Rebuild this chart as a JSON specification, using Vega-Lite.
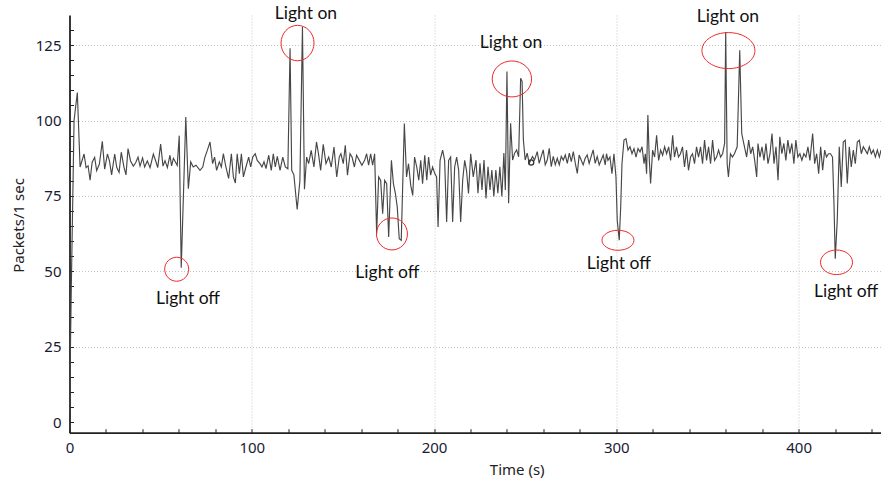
{
  "$schema": "https://vega.github.io/schema/vega-lite/v6.json",
  "width": 811.5,
  "height": 417.7,
  "autosize": {"type": "none"},
  "padding": {"left": 69.5, "top": 15, "right": 0, "bottom": 48.3},
  "background": "white",
  "config": {
    "view": {"stroke": null},
    "axis": {
      "domainColor": "#222222",
      "domainWidth": 1.8,
      "tickColor": "#222222",
      "tickWidth": 1,
      "tickSize": -4,
      "labelFont": "Noto Sans",
      "labelFontSize": 15,
      "labelColor": "#1a1a33",
      "titleFont": "Noto Sans",
      "titleFontSize": 15,
      "titleFontWeight": "normal",
      "titleColor": "#222222",
      "gridColor": "#c4c4c4",
      "gridDash": [1, 2],
      "gridWidth": 1
    }
  },
  "datasets": {
    "series": [
      {"t":0,"v":3},{"t":1,"v":45},{"t":2.5,"v":100},{"t":4.3,"v":109.3},{"t":5.8,"v":84.6},{"t":8.0,"v":88.9},{"t":9.1,"v":84.4},{"t":10.2,"v":85.0},{"t":11.3,"v":80.2},{"t":12.4,"v":86.1},{"t":13.8,"v":87.8},{"t":14.9,"v":83.4},{"t":16.4,"v":85.6},{"t":18.0,"v":93.1},{"t":19.3,"v":83.9},{"t":20.8,"v":88.9},{"t":21.9,"v":86.7},{"t":23.1,"v":82.0},{"t":24.8,"v":88.9},{"t":25.9,"v":84.5},{"t":27.2,"v":82.8},{"t":28.4,"v":89.5},{"t":29.9,"v":84.5},{"t":31.0,"v":82.0},{"t":32.1,"v":90.7},{"t":33.5,"v":86.6},{"t":35.0,"v":84.9},{"t":36.3,"v":86.0},{"t":37.6,"v":87.9},{"t":38.7,"v":84.9},{"t":40.1,"v":87.6},{"t":41.2,"v":84.6},{"t":42.7,"v":86.6},{"t":44.2,"v":84.4},{"t":46.0,"v":88.9},{"t":47.3,"v":86.6},{"t":48.4,"v":84.4},{"t":50.0,"v":92.2},{"t":51.3,"v":84.9},{"t":52.4,"v":86.7},{"t":53.7,"v":84.4},{"t":55.1,"v":88.5},{"t":56.0,"v":85.0},{"t":57.0,"v":87.5},{"t":57.9,"v":86.5},{"t":59.1,"v":85.1},{"t":60.2,"v":95.0},{"t":61.3,"v":51.2},{"t":63.8,"v":101.2},{"t":65.2,"v":77.4},{"t":66.5,"v":86.3},{"t":67.9,"v":84.6},{"t":69.4,"v":85.2},
      {"t":71.6,"v":83.5},{"t":73.1,"v":84.6},{"t":74.3,"v":87.9},{"t":75.6,"v":90.1},{"t":77.1,"v":92.9},{"t":78.5,"v":85.7},{"t":79.6,"v":87.9},{"t":80.7,"v":83.5},{"t":82.2,"v":86.3},{"t":83.3,"v":84.6},{"t":84.4,"v":89.0},{"t":85.8,"v":84.6},{"t":87.3,"v":80.8},{"t":88.8,"v":89.0},{"t":89.9,"v":81.3},{"t":91.0,"v":79.3},{"t":92.0,"v":89.0},{"t":93.2,"v":82.4},{"t":94.3,"v":89.0},{"t":95.4,"v":81.3},{"t":96.8,"v":84.6},{"t":98.3,"v":87.9},{"t":99.4,"v":84.6},{"t":100.5,"v":87.9},{"t":101.9,"v":89.0},{"t":103.0,"v":86.8},{"t":104.5,"v":85.7},{"t":105.6,"v":84.6},{"t":106.7,"v":86.3},{"t":107.8,"v":84.1},{"t":109.3,"v":88.5},{"t":110.7,"v":83.5},{"t":111.8,"v":89.0},{"t":112.9,"v":84.6},{"t":114.0,"v":88.1},{"t":115.5,"v":83.5},{"t":117.0,"v":87.9},{"t":118.4,"v":84.6},{"t":119.8,"v":84.0},{"t":121.0,"v":124.0},{"t":121.9,"v":83.5},{"t":123.1,"v":82.0},{"t":124.9,"v":70.5},{"t":126.4,"v":80.0},{"t":127.8,"v":131.0},{"t":128.9,"v":77.2},{"t":130.1,"v":87.9},{"t":131.2,"v":85.7},{"t":132.6,"v":90.1},{"t":134.1,"v":84.6},{"t":135.5,"v":92.9},{"t":136.6,"v":89.0},{"t":137.8,"v":83.5},{"t":139.2,"v":92.1},{"t":140.7,"v":85.7},{"t":142.2,"v":87.9},{"t":143.6,"v":84.6},{"t":145.1,"v":91.2},{"t":146.6,"v":81.3},{"t":148.0,"v":87.9},
      {"t":148.9,"v":89.0},{"t":150.2,"v":85.7},{"t":151.3,"v":91.8},{"t":152.5,"v":81.9},{"t":153.9,"v":89.0},{"t":155.0,"v":87.9},{"t":156.3,"v":84.6},{"t":157.5,"v":88.5},{"t":159.0,"v":86.8},{"t":160.4,"v":85.2},{"t":161.9,"v":86.8},{"t":163.0,"v":89.0},{"t":164.1,"v":85.2},{"t":165.2,"v":89.0},{"t":166.3,"v":85.2},{"t":167.4,"v":89.0},{"t":168.5,"v":62.5},{"t":169.6,"v":81.3},{"t":170.7,"v":80.2},{"t":171.8,"v":69.1},{"t":172.9,"v":80.2},{"t":174.0,"v":79.1},{"t":175.1,"v":61.4},{"t":176.6,"v":86.8},{"t":177.7,"v":79.1},{"t":178.8,"v":75.8},{"t":179.8,"v":71.4},{"t":180.9,"v":60.8},{"t":182.0,"v":60.3},{"t":183.7,"v":99.0},{"t":184.9,"v":81.3},{"t":186.0,"v":85.7},{"t":187.2,"v":78.5},{"t":188.3,"v":75.2},{"t":189.3,"v":87.9},{"t":190.5,"v":84.6},{"t":191.6,"v":80.2},{"t":192.7,"v":86.8},{"t":193.7,"v":79.1},{"t":194.9,"v":88.5},{"t":196.0,"v":80.2},{"t":197.0,"v":87.9},{"t":198.1,"v":81.9},{"t":199.2,"v":84.6},{"t":200.4,"v":82.4},{"t":201.4,"v":81.3},{"t":202.2,"v":64.7},{"t":203.3,"v":86.8},{"t":204.7,"v":90.2},{"t":205.8,"v":86.8},{"t":206.9,"v":66.4},{"t":208.0,"v":86.8},{"t":209.1,"v":87.9},{"t":210.2,"v":66.4},{"t":211.3,"v":84.6},{"t":212.4,"v":87.9},{"t":213.5,"v":83.5},{"t":214.6,"v":66.4},{"t":215.7,"v":80.2},{"t":216.8,"v":86.8},{"t":217.8,"v":83.5},{"t":218.9,"v":75.8},{"t":220.1,"v":89.0},{"t":221.5,"v":81.3},
      {"t":223.0,"v":86.9},{"t":224.1,"v":75.9},{"t":225.2,"v":85.8},{"t":226.3,"v":77.0},{"t":227.4,"v":86.9},{"t":228.5,"v":74.2},{"t":229.6,"v":84.7},{"t":230.7,"v":77.0},{"t":231.7,"v":83.6},{"t":232.8,"v":74.8},{"t":233.9,"v":83.6},{"t":235.0,"v":75.9},{"t":236.1,"v":84.7},{"t":237.2,"v":74.8},{"t":238.3,"v":89.2},{"t":239.1,"v":77.0},{"t":240.0,"v":116.3},{"t":240.9,"v":72.6},{"t":242.0,"v":99.1},{"t":243.1,"v":86.9},{"t":244.2,"v":89.2},{"t":245.3,"v":90.3},{"t":246.4,"v":88.0},{"t":247.5,"v":114.0},{"t":248.3,"v":113.0},{"t":249.0,"v":93.6},{"t":250.0,"v":86.9},{"t":251.1,"v":89.2},{"t":252.2,"v":85.8},{"t":254.0,"v":88.1},{"t":255.1,"v":86.9},{"t":256.6,"v":89.7},{"t":257.7,"v":85.8},{"t":258.8,"v":88.1},{"t":259.9,"v":90.3},{"t":261.0,"v":85.3},{"t":262.1,"v":86.9},{"t":263.2,"v":90.8},{"t":264.3,"v":84.7},{"t":265.4,"v":88.1},{"t":266.5,"v":85.3},{"t":267.6,"v":87.5},{"t":268.7,"v":85.3},{"t":269.8,"v":88.1},{"t":270.9,"v":86.9},{"t":272.0,"v":88.6},{"t":273.1,"v":85.8},{"t":274.2,"v":89.2},{"t":275.3,"v":86.4},{"t":276.4,"v":89.7},{"t":277.5,"v":85.8},{"t":278.6,"v":82.5},{"t":279.6,"v":88.6},{"t":280.7,"v":86.9},{"t":281.8,"v":85.3},{"t":282.9,"v":87.5},{"t":284.0,"v":88.6},{"t":285.1,"v":85.8},{"t":286.2,"v":88.1},{"t":287.3,"v":90.3},{"t":288.4,"v":85.8},{"t":289.5,"v":88.1},{"t":290.6,"v":85.3},{"t":291.7,"v":86.9},{"t":292.8,"v":88.6},{"t":293.9,"v":85.3},
      {"t":294.6,"v":89.0},{"t":295.4,"v":86.8},{"t":296.5,"v":87.9},{"t":297.6,"v":82.4},{"t":298.7,"v":89.0},{"t":299.8,"v":81.3},{"t":300.5,"v":66.9},{"t":301.6,"v":60.3},{"t":302.4,"v":71.4},{"t":303.1,"v":85.7},{"t":304.2,"v":93.5},{"t":305.3,"v":94.0},{"t":306.4,"v":90.2},{"t":307.5,"v":91.3},{"t":308.6,"v":89.0},{"t":309.7,"v":90.7},{"t":310.8,"v":87.9},{"t":311.9,"v":90.7},{"t":313.0,"v":89.6},{"t":314.1,"v":91.3},{"t":315.2,"v":85.7},{"t":315.9,"v":89.0},{"t":316.6,"v":82.4},{"t":317.3,"v":101.8},{"t":318.1,"v":86.8},{"t":318.8,"v":79.1},{"t":319.9,"v":90.2},{"t":321.0,"v":87.9},{"t":322.1,"v":95.1},{"t":323.2,"v":86.8},{"t":324.3,"v":90.2},{"t":325.4,"v":88.5},{"t":326.5,"v":91.3},{"t":327.6,"v":89.0},{"t":328.7,"v":91.3},{"t":329.8,"v":86.8},{"t":330.9,"v":95.1},{"t":331.9,"v":87.9},{"t":333.0,"v":91.3},{"t":334.1,"v":87.9},{"t":335.2,"v":89.0},{"t":336.3,"v":91.3},{"t":337.4,"v":84.6},{"t":338.5,"v":90.2},{"t":339.6,"v":83.5},{"t":340.7,"v":87.9},{"t":341.8,"v":89.0},{"t":342.9,"v":85.7},{"t":344.0,"v":91.3},{"t":345.1,"v":87.9},{"t":346.2,"v":91.3},{"t":347.3,"v":85.7},{"t":348.4,"v":93.5},{"t":349.5,"v":86.8},{"t":350.6,"v":91.3},{"t":351.7,"v":85.7},{"t":352.8,"v":93.5},{"t":353.9,"v":86.8},{"t":355.0,"v":87.9},{"t":356.1,"v":90.2},{"t":357.2,"v":87.9},{"t":358.3,"v":89.0},{"t":359.4,"v":92.4},{"t":360.0,"v":129.4},{"t":360.8,"v":85.7},{"t":361.5,"v":81.3},{"t":362.6,"v":89.0},{"t":363.7,"v":87.9},{"t":364.8,"v":89.0},{"t":366.3,"v":91.3},{"t":367.7,"v":123.3},{"t":368.8,"v":95.7},{"t":369.9,"v":92.4},
      {"t":371.5,"v":87.9},{"t":372.6,"v":93.5},{"t":373.7,"v":89.0},{"t":374.8,"v":91.3},{"t":375.9,"v":86.8},{"t":377.0,"v":81.3},{"t":377.7,"v":92.4},{"t":378.8,"v":87.9},{"t":379.9,"v":91.3},{"t":381.0,"v":86.8},{"t":382.1,"v":92.4},{"t":383.2,"v":85.7},{"t":384.3,"v":89.0},{"t":385.4,"v":95.7},{"t":386.5,"v":85.7},{"t":387.6,"v":91.3},{"t":388.7,"v":80.2},{"t":389.7,"v":94.6},{"t":390.8,"v":89.0},{"t":391.9,"v":92.4},{"t":393.0,"v":86.8},{"t":394.1,"v":93.5},{"t":395.2,"v":89.0},{"t":396.3,"v":92.4},{"t":397.4,"v":85.7},{"t":398.5,"v":93.5},{"t":399.6,"v":87.9},{"t":400.7,"v":89.0},{"t":401.8,"v":86.8},{"t":402.9,"v":89.0},{"t":404.0,"v":87.9},{"t":405.1,"v":91.3},{"t":406.2,"v":86.8},{"t":407.7,"v":95.7},{"t":408.8,"v":85.7},{"t":409.9,"v":89.0},{"t":411.0,"v":82.4},{"t":412.1,"v":91.3},{"t":413.2,"v":83.5},{"t":414.3,"v":90.2},{"t":415.3,"v":87.9},{"t":416.4,"v":89.0},{"t":417.5,"v":89.0},{"t":418.6,"v":87.9},{"t":419.4,"v":72.5},{"t":420.1,"v":54.2},{"t":421.2,"v":66.9},{"t":422.3,"v":91.3},{"t":423.4,"v":78.0},{"t":424.5,"v":92.9},{"t":425.6,"v":93.5},{"t":426.7,"v":79.1},{"t":427.8,"v":91.3},{"t":428.9,"v":84.6},{"t":430.0,"v":90.2},{"t":431.1,"v":85.7},{"t":432.2,"v":92.9},{"t":433.3,"v":93.5},{"t":434.4,"v":89.0},{"t":435.5,"v":91.3},{"t":436.6,"v":90.2},{"t":437.7,"v":89.0},{"t":438.8,"v":91.3},{"t":439.9,"v":89.0},{"t":441.0,"v":90.2},{"t":442.1,"v":87.9},{"t":443.2,"v":90.2},{"t":444.3,"v":87.9},{"t":445.2,"v":90.2}
    ],
    "ellipses": [
      {"id":"e1","x":58.8,"y":50.7},
      {"id":"e2","x":125.1,"y":125.7},
      {"id":"e3","x":176.9,"y":62.4},
      {"id":"e4","x":242.7,"y":113.8},
      {"id":"e5","x":300.9,"y":60.3},
      {"id":"e6","x":361.5,"y":123.2},
      {"id":"e7","x":420.8,"y":53.0}
    ],
    "marker": [{"x":253.3,"y":86.1}],
    "labels": [
      {"x":65,"y":40.9,"label":"Light off"},
      {"x":129.7,"y":135.4,"label":"Light on"},
      {"x":174.4,"y":49.4,"label":"Light off"},
      {"x":242.2,"y":125.7,"label":"Light on"},
      {"x":301.4,"y":52.5,"label":"Light off"},
      {"x":361.2,"y":134.2,"label":"Light on"},
      {"x":426,"y":43.3,"label":"Light off"}
    ]
  },
  "layer": [
    {
      "data": {"name": "series"},
      "mark": {"type": "line", "color": "#474747", "strokeWidth": 1.15, "clip": true},
      "encoding": {
        "x": {
          "field": "t", "type": "quantitative",
          "scale": {"domain": [0, 445.2], "nice": false, "zero": false},
          "axis": {
            "title": "Time (s)",
            "values": [0,20,40,60,80,100,120,140,160,180,200,220,240,260,280,300,320,340,360,380,400,420,440],
            "tickCount": 500,
            "format": "d",
            "labelExpr": "datum.value % 100 === 0 ? datum.label : ''",
            "labelBaseline": "middle",
            "labelPadding": 18.6,
            "labelFlush": false,
            "labelOverlap": false,
            "grid": true,
            "gridOpacity": {"condition": {"test": "datum.value % 100 === 0 && datum.value > 0", "value": 1}, "value": 0},
            "titleX": 447.2,
            "titleY": 37,
            "titleBaseline": "middle",
            "titleAnchor": "middle"
          }
        },
        "y": {
          "field": "v", "type": "quantitative",
          "scale": {"domain": [-3.5, 135], "nice": false, "zero": false},
          "axis": {
            "title": "Packets/1 sec",
            "values": [0,5,10,15,20,25,30,35,40,45,50,55,60,65,70,75,80,85,90,95,100,105,110,115,120,125,130],
            "tickCount": 500,
            "format": "d",
            "labelExpr": "datum.value % 25 === 0 ? datum.label : ''",
            "labelPadding": 12.5,
            "labelOverlap": false,
            "labelBaseline": "middle",
            "grid": true,
            "gridOpacity": {"condition": {"test": "datum.value % 25 === 0 && datum.value > 0", "value": 1}, "value": 0},
            "titleX": -51.5,
            "titleY": 210,
            "titleAngle": -90,
            "titleBaseline": "middle",
            "titleAnchor": "middle"
          }
        }
      }
    },
    {
      "data": {"name": "ellipses"},
      "mark": {"type": "point", "filled": false, "stroke": "#f02828", "strokeWidth": 1, "size": 4, "opacity": 1},
      "encoding": {
        "x": {"field": "x", "type": "quantitative"},
        "y": {"field": "y", "type": "quantitative"},
        "shape": {
          "field": "id", "type": "nominal", "legend": null,
          "scale": {
            "domain": ["e1","e2","e3","e4","e5","e6","e7"],
            "range": [
              "M -12 0 A 12 12 0 1 0 12 0 A 12 12 0 1 0 -12 0 Z",
              "M -16.5 0 A 16.5 17.7 0 1 0 16.5 0 A 16.5 17.7 0 1 0 -16.5 0 Z",
              "M -15.5 0 A 15.5 16 0 1 0 15.5 0 A 15.5 16 0 1 0 -15.5 0 Z",
              "M -19.7 0 A 19.7 18 0 1 0 19.7 0 A 19.7 18 0 1 0 -19.7 0 Z",
              "M -16 0 A 16 10 0 1 0 16 0 A 16 10 0 1 0 -16 0 Z",
              "M -26.5 0 A 26.5 18 0 1 0 26.5 0 A 26.5 18 0 1 0 -26.5 0 Z",
              "M -16 0 A 16 12.3 0 1 0 16 0 A 16 12.3 0 1 0 -16 0 Z"
            ]
          }
        }
      }
    },
    {
      "data": {"name": "marker"},
      "mark": {"type": "point", "shape": "circle", "filled": false, "stroke": "#333333", "strokeWidth": 1.3, "size": 26, "opacity": 1},
      "encoding": {
        "x": {"field": "x", "type": "quantitative"},
        "y": {"field": "y", "type": "quantitative"}
      }
    },
    {
      "data": {"name": "labels"},
      "mark": {"type": "text", "font": "Lato", "fontSize": 17.5, "color": "#111111", "align": "center", "baseline": "middle"},
      "encoding": {
        "x": {"field": "x", "type": "quantitative"},
        "y": {"field": "y", "type": "quantitative"},
        "text": {"field": "label", "type": "nominal"}
      }
    }
  ]
}
